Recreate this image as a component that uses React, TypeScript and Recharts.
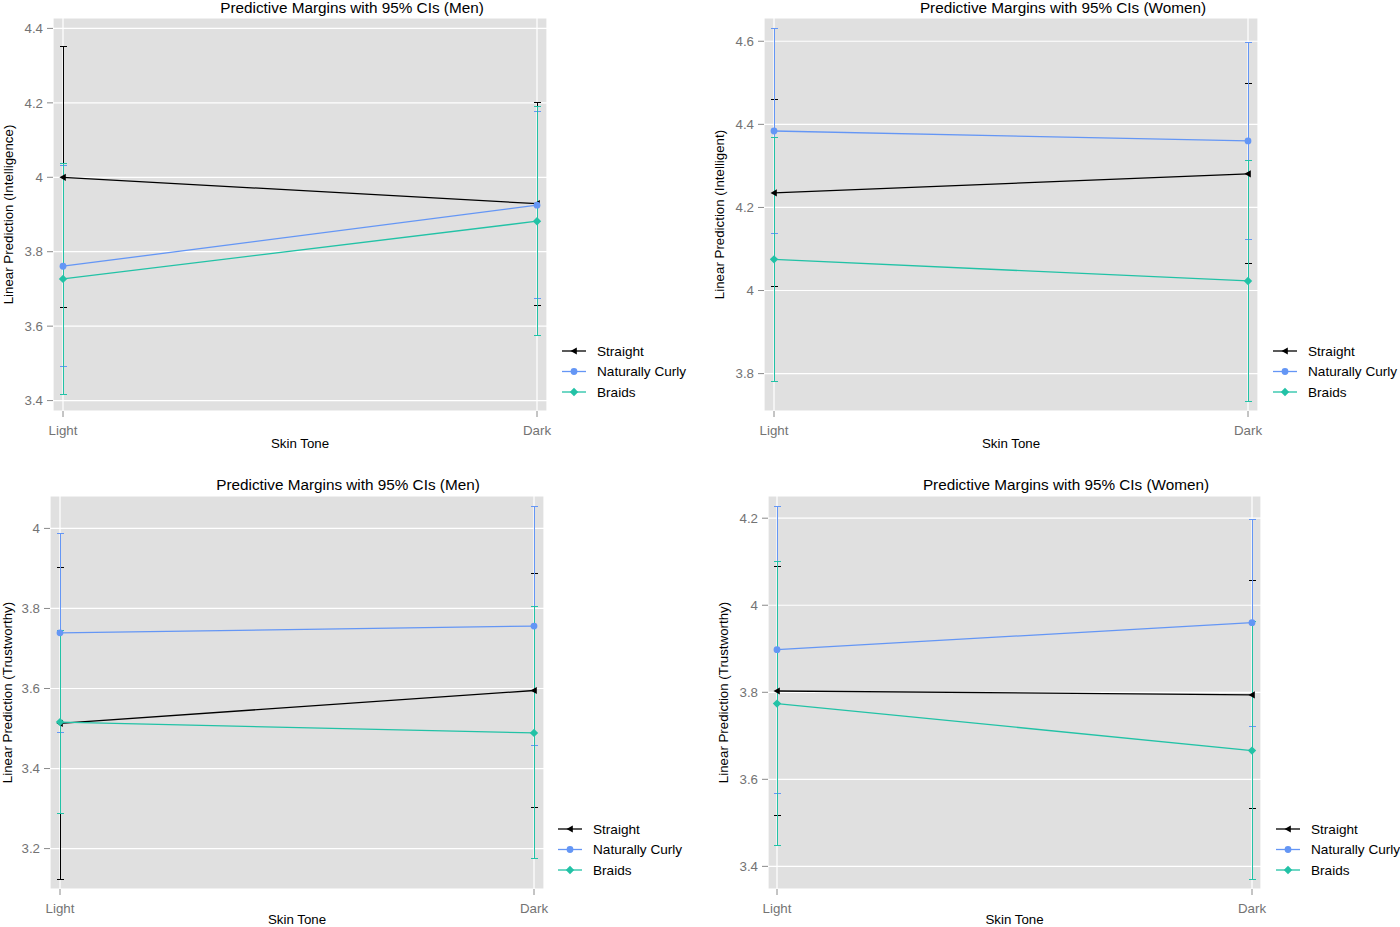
import React from 'react';
import { LineChart, Line, XAxis, YAxis, CartesianGrid, ErrorBar } from 'recharts';

// ---- data ----
const skinTone = ['Light', 'Dark'];
const seriesNames = ['Straight', 'Naturally Curly', 'Braids'];

// Men, intelligence
const menIntStraight = [4.0, 3.929];
const menIntStraightCI = [[3.649, 4.351], [3.656, 4.2]];
const menIntCurly = [3.761, 3.925];
const menIntCurlyCI = [[3.491, 4.031], [3.673, 4.178]];
const menIntBraids = [3.727, 3.882];
const menIntBraidsCI = [[3.415, 4.038], [3.576, 4.189]];
const menIntTicks = [3.4, 3.6, 3.8, 4.0, 4.2, 4.4];

// Women, intelligent
const womenIntStraight = [4.235, 4.281];
const womenIntStraightCI = [[4.01, 4.46], [4.065, 4.498]];
const womenIntCurly = [4.384, 4.36];
const womenIntCurlyCI = [[4.138, 4.631], [4.123, 4.598]];
const womenIntBraids = [4.075, 4.023];
const womenIntBraidsCI = [[3.78, 4.369], [3.734, 4.312]];
const womenIntTicks = [3.8, 4.0, 4.2, 4.4, 4.6];

// Men, trustworthy
const menTrustStraight = [3.513, 3.595];
const menTrustStraightCI = [[3.123, 3.903], [3.303, 3.888]];
const menTrustCurly = [3.739, 3.756];
const menTrustCurlyCI = [[3.491, 3.988], [3.458, 4.054]];
const menTrustBraids = [3.516, 3.489];
const menTrustBraidsCI = [[3.287, 3.745], [3.176, 3.804]];
const menTrustTicks = [3.2, 3.4, 3.6, 3.8, 4.0];

// Women, trustworthy
const womenTrustStraight = [3.803, 3.794];
const womenTrustStraightCI = [[3.517, 4.09], [3.533, 4.057]];
const womenTrustCurly = [3.898, 3.96];
const womenTrustCurlyCI = [[3.568, 4.227], [3.721, 4.198]];
const womenTrustBraids = [3.774, 3.666];
const womenTrustBraidsCI = [[3.449, 4.101], [3.369, 3.963]];
const womenTrustTicks = [3.4, 3.6, 3.8, 4.0, 4.2];

const KEYS = ['straight', 'curly', 'braids'];
const COLORS: Record<string, string> = {
  straight: '#000000',
  curly: '#6496f5',
  braids: '#22c2a6',
};

const FONT = '"Liberation Sans", Arial, sans-serif';
const TICK_GREY = '#737373';

function buildRows(means: number[][], cis: number[][][]) {
  return skinTone.map((tone, i) => {
    const row: any = { tone };
    KEYS.forEach((k, s) => {
      const m = means[s][i];
      const [lo, hi] = cis[s][i];
      row[k] = m;
      row[k + 'Err'] = [m - lo, hi - m];
    });
    return row;
  });
}

// ---- markers ----
function Marker({ kind, cx, cy }: { kind: string; cx: number; cy: number }) {
  const c = COLORS[kind];
  if (kind === 'straight') {
    return (
      <polygon
        points={`${cx - 3.5},${cy} ${cx + 2.8},${cy - 3.6} ${cx + 2.8},${cy + 3.6}`}
        fill={c}
      />
    );
  }
  if (kind === 'curly') return <circle cx={cx} cy={cy} r={3.4} fill={c} />;
  return (
    <polygon
      points={`${cx},${cy - 4.2} ${cx + 4.2},${cy} ${cx},${cy + 4.2} ${cx - 4.2},${cy}`}
      fill={c}
    />
  );
}

const panels = [
  {
    id: 'men-int',
    title: 'Predictive Margins with 95% CIs (Men)',
    yTitle: 'Linear Prediction (Intelligence)',
    data: buildRows(
      [menIntStraight, menIntCurly, menIntBraids],
      [menIntStraightCI, menIntCurlyCI, menIntBraidsCI]
    ),
    ticks: menIntTicks,
    domain: [3.372, 4.428],
    frame: { left: 0, top: 0, width: 700, height: 463 },
    plot: { x1: 53, x2: 547, y1: 18, y2: 411 },
    pad: 10,
    titleAt: [352, 13],
    yTitleX: 13,
    xTitleY: 448,
    legendAt: [562, 351],
  },
  {
    id: 'women-int',
    title: 'Predictive Margins with 95% CIs (Women)',
    yTitle: 'Linear Prediction (Intelligent)',
    data: buildRows(
      [womenIntStraight, womenIntCurly, womenIntBraids],
      [womenIntStraightCI, womenIntCurlyCI, womenIntBraidsCI]
    ),
    ticks: womenIntTicks,
    domain: [3.71, 4.656],
    frame: { left: 700, top: 0, width: 700, height: 463 },
    plot: { x1: 764, x2: 1258, y1: 18, y2: 411 },
    pad: 10,
    titleAt: [1063, 13],
    yTitleX: 723.5,
    xTitleY: 448,
    legendAt: [1273, 351],
  },
  {
    id: 'men-trust',
    title: 'Predictive Margins with 95% CIs (Men)',
    yTitle: 'Linear Prediction (Trustworthy)',
    data: buildRows(
      [menTrustStraight, menTrustCurly, menTrustBraids],
      [menTrustStraightCI, menTrustCurlyCI, menTrustBraidsCI]
    ),
    ticks: menTrustTicks,
    domain: [3.099, 4.081],
    frame: { left: 0, top: 463, width: 700, height: 464 },
    plot: { x1: 50, x2: 544, y1: 496, y2: 889 },
    pad: 10,
    titleAt: [348, 489.5],
    yTitleX: 12,
    xTitleY: 923.5,
    legendAt: [558, 829],
  },
  {
    id: 'women-trust',
    title: 'Predictive Margins with 95% CIs (Women)',
    yTitle: 'Linear Prediction (Trustworthy)',
    data: buildRows(
      [womenTrustStraight, womenTrustCurly, womenTrustBraids],
      [womenTrustStraightCI, womenTrustCurlyCI, womenTrustBraidsCI]
    ),
    ticks: womenTrustTicks,
    domain: [3.348, 4.251],
    frame: { left: 700, top: 463, width: 700, height: 464 },
    plot: { x1: 768, x2: 1261, y1: 496, y2: 889 },
    pad: 9,
    titleAt: [1066, 489.5],
    yTitleX: 727.5,
    xTitleY: 923.5,
    legendAt: [1276, 829],
  },
];

const Y_AXIS_W = 45;
const X_AXIS_H = 30;

function fmt(v: number) {
  return String(+v.toFixed(1));
}

function Panel({ p }: { p: (typeof panels)[number] }) {
  const { frame, plot } = p;
  const margin = {
    left: plot.x1 - frame.left - Y_AXIS_W,
    right: frame.left + frame.width - plot.x2,
    top: plot.y1 - frame.top,
    bottom: frame.top + frame.height - plot.y2 - X_AXIS_H,
  };
  return (
    <div style={{ position: 'absolute', left: frame.left, top: frame.top }}>
      <LineChart width={frame.width} height={frame.height} data={p.data} margin={margin}>
        <CartesianGrid fill="#e0e0e0" fillOpacity={1} stroke="#ffffff" strokeWidth={1.2} />
        <XAxis
          dataKey="tone"
          type="category"
          padding={{ left: p.pad, right: p.pad }}
          interval={0}
          height={X_AXIS_H}
          axisLine={false}
          tickSize={6}
          tickMargin={8.5}
          tickLine={{ stroke: '#8a8a8a' }}
          tick={{ fill: TICK_GREY, fontSize: 13.3 }}
        />
        <YAxis
          type="number"
          domain={p.domain}
          allowDataOverflow
          ticks={p.ticks}
          interval={0}
          width={Y_AXIS_W}
          axisLine={false}
          tickSize={6}
          tickMargin={4}
          tickLine={{ stroke: '#8a8a8a' }}
          tick={{ fill: TICK_GREY, fontSize: 13.3 }}
          tickFormatter={fmt}
        />
        {/* confidence intervals, each on its own hidden carrier line */}
        {KEYS.map((k) => (
          <Line
            key={k + '-ci'}
            dataKey={k}
            stroke="none"
            dot={false}
            activeDot={false}
            legendType="none"
            isAnimationActive={false}
          >
            <ErrorBar
              dataKey={k + 'Err'}
              direction="y"
              width={3.5}
              stroke={COLORS[k]}
              strokeWidth={1}
              shapeRendering="crispEdges"
              isAnimationActive={false}
            />
          </Line>
        ))}
        {KEYS.map((k) => (
          <Line
            key={k}
            dataKey={k}
            type="linear"
            stroke={COLORS[k]}
            strokeWidth={1.3}
            isAnimationActive={false}
            activeDot={false}
            dot={(d: any) => <Marker key={`${k}-${d.index}`} kind={k} cx={d.cx} cy={d.cy} />}
          />
        ))}
      </LineChart>
    </div>
  );
}

function Overlay() {
  return (
    <svg
      width={1400}
      height={927}
      style={{ position: 'absolute', left: 0, top: 0, pointerEvents: 'none', fontFamily: FONT }}
    >
      {panels.map((p) => {
        const midX = (p.plot.x1 + p.plot.x2) / 2;
        const midY = (p.plot.y1 + p.plot.y2) / 2;
        const [lx, ly] = p.legendAt;
        return (
          <g key={p.id}>
            <text x={p.titleAt[0]} y={p.titleAt[1]} textAnchor="middle" fontSize={15.3} fill="#000">
              {p.title}
            </text>
            <text x={midX} y={p.xTitleY} textAnchor="middle" fontSize={13.3} fill="#000">
              Skin Tone
            </text>
            <text
              x={p.yTitleX}
              y={midY}
              textAnchor="middle"
              fontSize={13.3}
              fill="#000"
              transform={`rotate(-90 ${p.yTitleX} ${midY})`}
            >
              {p.yTitle}
            </text>
            {KEYS.map((k, i) => {
              const y = ly + i * 20.5;
              return (
                <g key={k}>
                  <line x1={lx} x2={lx + 24} y1={y} y2={y} stroke={COLORS[k]} strokeWidth={1.3} />
                  <Marker kind={k} cx={lx + 12} cy={y} />
                  <text x={lx + 35} y={y + 4.8} fontSize={13.6} fill="#000">
                    {seriesNames[i]}
                  </text>
                </g>
              );
            })}
          </g>
        );
      })}
    </svg>
  );
}

export default function App() {
  return (
    <div
      style={{
        position: 'absolute',
        left: 0,
        top: 0,
        width: 1400,
        height: 927,
        background: '#ffffff',
        overflow: 'hidden',
        fontFamily: FONT,
      }}
    >
      {panels.map((p) => (
        <Panel key={p.id} p={p} />
      ))}
      <Overlay />
    </div>
  );
}
